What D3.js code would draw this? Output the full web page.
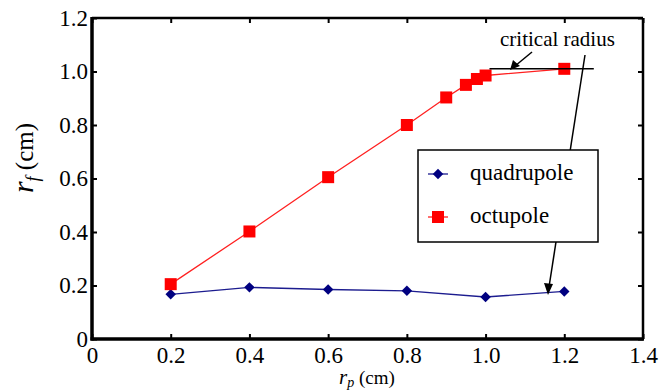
<html>
<head>
<meta charset="UTF-8">
<title>rf vs rp</title>
<script src="https://cdn.jsdelivr.net/npm/d3@7"></script>
</head>
<body style="margin:0">
<div id="container"></div>
<script>
    const width = 664;
    const height = 390;
    const margin = { top: 18, left: 92, right: 21, bottom: 51 };

    const xTicks = [0, 0.2, 0.4, 0.6, 0.8, 1.0, 1.2, 1.4];
    const yTicks = [0, 0.2, 0.4, 0.6, 0.8, 1.0, 1.2];

    const quadX = [0.2, 0.4, 0.6, 0.8, 1.0, 1.2];
    const quadY = [0.167, 0.193, 0.185, 0.180, 0.157, 0.178];

    const octX = [0.2, 0.4, 0.6, 0.8, 0.9, 0.95, 0.978, 1.0, 1.2];
    const octY = [0.205, 0.402, 0.605, 0.800, 0.903, 0.950, 0.972, 0.985, 1.010];

    const x = d3.scaleLinear().domain([0, 1.4]).range([margin.left, width - margin.right]);
    const y = d3.scaleLinear().domain([0, 1.2]).range([height - margin.bottom, margin.top]);

    const svg = d3.select('#container').append('svg')
        .attr('width', width)
        .attr('height', height);

    const fmt = d => d === 0 ? '0' : d.toFixed(1);

    // frame ticks (inward) on all four sides
    svg.append('g')
        .attr('transform', `translate(0,${y(0)})`)
        .call(d3.axisBottom(x).tickValues(xTicks).tickSize(-5).tickPadding(8).tickFormat(fmt))
        .call(g => g.select('.domain').remove())
        .call(g => g.selectAll('line').attr('stroke-width', 2))
        .call(g => g.selectAll('text').attr('font-size', 23).attr('fill', '#000'));
    svg.append('g')
        .attr('transform', `translate(${x(0)},0)`)
        .call(d3.axisLeft(y).tickValues(yTicks).tickSize(-5).tickPadding(4).tickFormat(fmt))
        .call(g => g.select('.domain').remove())
        .call(g => g.selectAll('line').attr('stroke-width', 2))
        .call(g => g.selectAll('text').attr('font-size', 23).attr('fill', '#000'));
    svg.append('g')
        .attr('transform', `translate(0,${y(1.2)})`)
        .call(d3.axisTop(x).tickValues(xTicks).tickSize(-5).tickFormat(''))
        .call(g => g.select('.domain').remove())
        .call(g => g.selectAll('line').attr('stroke-width', 2));
    svg.append('g')
        .attr('transform', `translate(${x(1.4)},0)`)
        .call(d3.axisRight(y).tickValues(yTicks).tickSize(-5).tickFormat(''))
        .call(g => g.select('.domain').remove())
        .call(g => g.selectAll('line').attr('stroke-width', 2));

    // plot frame
    svg.append('line').attr('x1', x(0)).attr('x2', x(1.4)).attr('y1', y(1.2)).attr('y2', y(1.2))
        .attr('stroke', '#000').attr('stroke-width', 2.5);
    svg.append('line').attr('x1', x(1.4)).attr('x2', x(1.4)).attr('y1', y(0)).attr('y2', y(1.2))
        .attr('stroke', '#000').attr('stroke-width', 2.5);
    svg.append('line').attr('x1', x(0)).attr('x2', x(0)).attr('y1', y(0) + 1.5).attr('y2', y(1.2) - 1)
        .attr('stroke', '#000').attr('stroke-width', 3.5);
    svg.append('line').attr('x1', x(0) - 1.5).attr('x2', x(1.4) + 1).attr('y1', y(0)).attr('y2', y(0))
        .attr('stroke', '#000').attr('stroke-width', 3.5);

    // series
    const line = d3.line().x(d => x(d[0])).y(d => y(d[1]));
    const quad = quadX.map((v, i) => [v, quadY[i]]);
    const oct = octX.map((v, i) => [v, octY[i]]);

    svg.append('path').datum(quad).attr('d', line)
        .attr('fill', 'none').attr('stroke', '#1c1c8f').attr('stroke-width', 1.3);
    svg.append('path').datum(oct).attr('d', line)
        .attr('fill', 'none').attr('stroke', '#ff2020').attr('stroke-width', 1.3);

    const diamond = d3.symbol().type(d3.symbolDiamond2).size(70);
    svg.append('g').selectAll('path').data(quad).join('path')
        .attr('transform', d => `translate(${x(d[0])},${y(d[1])})`)
        .attr('d', diamond)
        .attr('fill', '#000080');

    svg.append('g').selectAll('rect').data(oct).join('rect')
        .attr('x', d => x(d[0]) - 6).attr('y', d => y(d[1]) - 6)
        .attr('width', 12).attr('height', 12)
        .attr('fill', '#ff0000');

    // annotation: critical radius
    const ann = svg.append('g').attr('stroke', '#000').attr('stroke-width', 1.5).attr('fill', 'none');
    ann.append('line').attr('x1', x(1.01)).attr('x2', x(1.275)).attr('y1', y(1.01)).attr('y2', y(1.01));
    ann.append('line').attr('x1', 532).attr('y1', 52).attr('x2', 515).attr('y2', 66);
    svg.append('path').attr('d', 'M510,70 L513,60 L520,66 Z').attr('fill', '#000');
    ann.append('line').attr('x1', 585).attr('y1', 55).attr('x2', 549).attr('y2', 287);
    svg.append('path').attr('d', 'M548,295 L544,283 L553,284 Z').attr('fill', '#000');

    svg.append('text').attr('x', 500).attr('y', 46).attr('font-size', 21).attr('fill', '#000')
        .text('critical radius');

    // legend
    const lg = svg.append('g').attr('transform', 'translate(418,150)');
    lg.append('rect').attr('width', 180).attr('height', 92)
        .attr('fill', '#fff').attr('stroke', '#000').attr('stroke-width', 1.5);
    lg.append('line').attr('x1', 10).attr('x2', 30).attr('y1', 24).attr('y2', 24)
        .attr('stroke', '#1c1c8f').attr('stroke-width', 1.3);
    lg.append('path').attr('transform', 'translate(20,24)').attr('d', diamond).attr('fill', '#000080');
    lg.append('text').attr('x', 52).attr('y', 30).attr('font-size', 23).text('quadrupole');
    lg.append('line').attr('x1', 10).attr('x2', 30).attr('y1', 67).attr('y2', 67)
        .attr('stroke', '#ff2020').attr('stroke-width', 1.3);
    lg.append('rect').attr('x', 14).attr('y', 61).attr('width', 12).attr('height', 12).attr('fill', '#ff0000');
    lg.append('text').attr('x', 52).attr('y', 73).attr('font-size', 23).text('octupole');

    // axis labels
    const yl = svg.append('text')
        .attr('transform', 'translate(33,158) rotate(-90)')
        .attr('text-anchor', 'middle').attr('font-size', 25);
    yl.append('tspan').attr('font-style', 'italic').attr('font-size', 30).text('r');
    yl.append('tspan').attr('font-style', 'italic').attr('font-size', 18).attr('dy', 6).text('f');
    yl.append('tspan').attr('dy', -6).text(' (cm)');

    const xl = svg.append('text')
        .attr('x', 367).attr('y', 384)
        .attr('text-anchor', 'middle').attr('font-size', 19);
    xl.append('tspan').attr('font-style', 'italic').attr('font-size', 21).text('r');
    xl.append('tspan').attr('font-style', 'italic').attr('font-size', 14).attr('dy', 3).text('p');
    xl.append('tspan').attr('dy', -3).text(' (cm)');

    svg.selectAll('text')
        .style('font-family', '"Liberation Serif"');
</script>
</body>
</html>
